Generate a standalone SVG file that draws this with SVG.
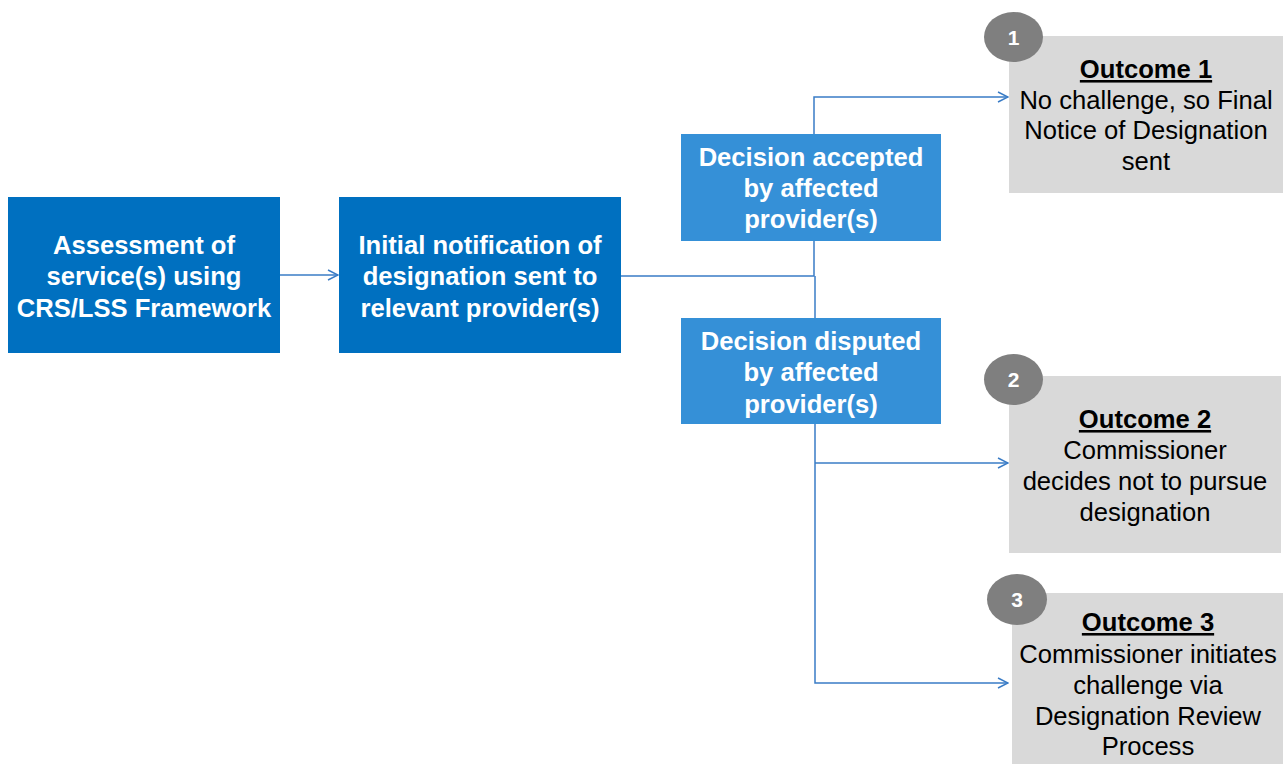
<svg xmlns="http://www.w3.org/2000/svg" width="1283" height="764" viewBox="0 0 1283 764">
<defs>
<style>
.main{fill:#0070C0}
.dec{fill:#3590D7}
.out{fill:#D9D9D9}
.badge{fill:#7F7F7F}
.wt{font-family:"Liberation Sans",Arial,sans-serif;font-size:25.6px;font-weight:bold;fill:#FFFFFF;text-anchor:middle}
.bt{font-family:"Liberation Sans",Arial,sans-serif;font-size:25.6px;fill:#000000;text-anchor:middle}
.ttl{font-weight:bold;text-decoration:underline}
.num{font-family:"Liberation Sans",Arial,sans-serif;font-size:21px;font-weight:bold;fill:#FFFFFF;text-anchor:middle}
.conn{fill:none;stroke:#3A7CC6;stroke-width:1.5}
</style>
<marker id="arr" viewBox="0 0 12 12" refX="11" refY="6" markerWidth="12" markerHeight="12" markerUnits="userSpaceOnUse" orient="auto">
<path d="M1,1 L11,6 L1,11" fill="none" stroke="#3A7CC6" stroke-width="1.5"/>
</marker>
</defs>
<rect width="1283" height="764" fill="#FFFFFF"/>
<g id="connectors">
<path class="conn" d="M280,275 H338" marker-end="url(#arr)"/>
<path class="conn" d="M621,276 H814 V241"/>
<path class="conn" d="M814,134 V97 H1008" marker-end="url(#arr)"/>
<path class="conn" d="M815,276 V318"/>
<path class="conn" d="M815,424 V683 H1008" marker-end="url(#arr)"/>
<path class="conn" d="M815,463 H1008" marker-end="url(#arr)"/>
</g>
<g id="assessment">
<rect class="main" x="8" y="197" width="272" height="156"/>
<text class="wt" x="144" y="254">Assessment of</text>
<text class="wt" x="144" y="285">service(s) using</text>
<text class="wt" x="144" y="317">CRS/LSS Framework</text>
</g>
<g id="notification">
<rect class="main" x="339" y="197" width="282" height="156"/>
<text class="wt" x="480" y="254">Initial notification of</text>
<text class="wt" x="480" y="285">designation sent to</text>
<text class="wt" x="480" y="317">relevant provider(s)</text>
</g>
<g id="accepted">
<rect class="dec" x="681" y="134" width="260" height="107"/>
<text class="wt" x="811" y="166">Decision accepted</text>
<text class="wt" x="811" y="197">by affected</text>
<text class="wt" x="811" y="228">provider(s)</text>
</g>
<g id="disputed">
<rect class="dec" x="681" y="318" width="260" height="106"/>
<text class="wt" x="811" y="350">Decision disputed</text>
<text class="wt" x="811" y="381">by affected</text>
<text class="wt" x="811" y="413">provider(s)</text>
</g>
<g id="outcome1">
<rect class="out" x="1009" y="36" width="274" height="157"/>
<ellipse class="badge" cx="1013.5" cy="37" rx="29.5" ry="25"/>
<text class="num" x="1013.5" y="45">1</text>
<text class="bt ttl" x="1146" y="78">Outcome 1</text>
<text class="bt" x="1146" y="109">No challenge, so Final</text>
<text class="bt" x="1146" y="139">Notice of Designation</text>
<text class="bt" x="1146" y="170">sent</text>
</g>
<g id="outcome2">
<rect class="out" x="1009" y="376" width="272" height="177"/>
<ellipse class="badge" cx="1013.5" cy="379.5" rx="29.5" ry="25.5"/>
<text class="num" x="1013.5" y="387">2</text>
<text class="bt ttl" x="1145" y="428">Outcome 2</text>
<text class="bt" x="1145" y="459">Commissioner</text>
<text class="bt" x="1145" y="490">decides not to pursue</text>
<text class="bt" x="1145" y="521">designation</text>
</g>
<g id="outcome3">
<rect class="out" x="1012" y="593" width="271" height="171"/>
<ellipse class="badge" cx="1017" cy="599.5" rx="30" ry="25.5"/>
<text class="num" x="1017" y="607">3</text>
<text class="bt ttl" x="1148" y="631">Outcome 3</text>
<text class="bt" x="1148" y="663">Commissioner initiates</text>
<text class="bt" x="1148" y="694">challenge via</text>
<text class="bt" x="1148" y="725">Designation Review</text>
<text class="bt" x="1148" y="755">Process</text>
</g>
</svg>
